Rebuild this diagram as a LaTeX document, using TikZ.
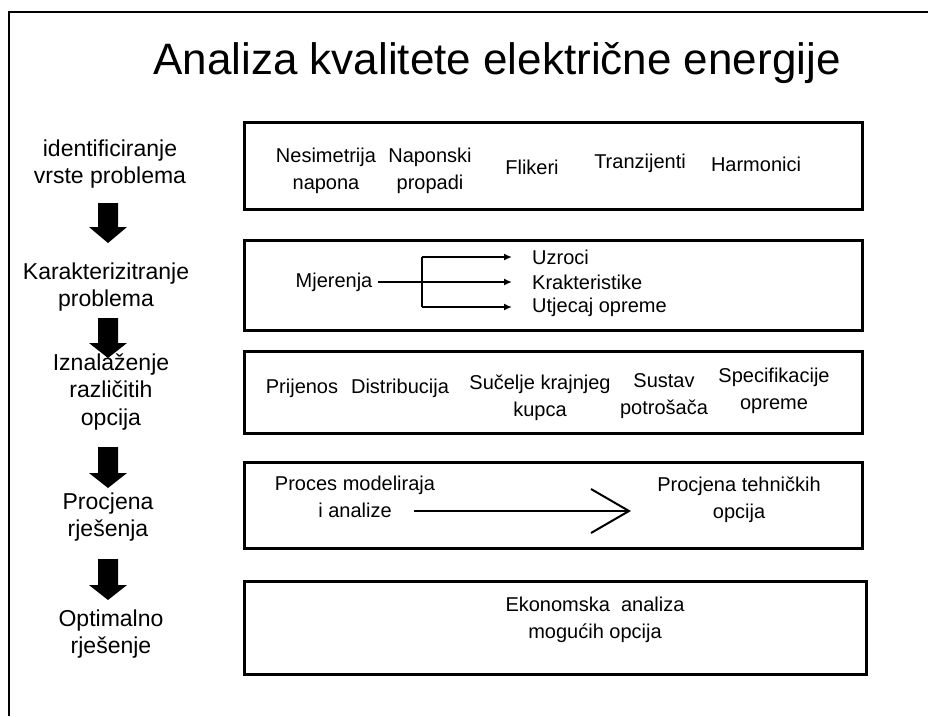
\documentclass[tikz,border=0pt]{standalone}
\usepackage{fontspec}
\setmainfont{Liberation Sans}
\usetikzlibrary{arrows.meta}
\newcommand\flowdownarrow[4]{%
  \fill[black] (#1-10,#2) -- (#1+10,#2) -- (#1+10,#3) -- (#1+19,#3) -- (#1,#4)
    -- (#1-19,#3) -- (#1-10,#3) -- cycle;}
\begin{document}
\begin{tikzpicture}[x=1pt,y=-1pt,
  frame/.style={line width=2.5pt},
  panel/.style={draw, line width=3pt},
  title/.style={inner sep=0pt, font=\fontsize{44}{52}\selectfont},
  lbl/.style={align=center, inner sep=0pt, font=\fontsize{23}{27.5}\selectfont},
  itm/.style={align=center, inner sep=0pt, font=\fontsize{20}{26.5}\selectfont},
  conn/.style={line width=1.6pt},
  connarrow/.style={conn, -{Latex[length=8pt,width=7pt]}},
  bigarrow/.style={line width=1.8pt, -{Straight Barb[length=38pt,width=44pt,line width=2pt]}}]
\useasboundingbox (0,0) rectangle (928,716);
\fill[white] (0,0) rectangle (928,716);
\draw[frame] (9,716) -- (9,12) -- (928,12);

% title
\node[title] (ttl) at (497,63) {Analiza kvalitete električne energije};

% left column labels
\node[lbl] (l1) at (110,164) {identificiranje\\vrste problema};
\node[lbl] (l2) at (106,287) {Karakterizitranje\\problema};
\node[lbl] (l3) at (111,392) {Iznalaženje\\različitih\\opcija};
\node[lbl] (l4) at (108,517) {Procjena\\rješenja};
\node[lbl] (l5) at (111,634) {Optimalno\\rješenje};

% block arrows
\flowdownarrow{108}{203}{227}{243}
\flowdownarrow{108}{318}{343}{358}
\flowdownarrow{108}{447}{473}{488}
\flowdownarrow{108}{559}{585}{600}

% panels
\draw[panel] (244,122) rectangle (862,209);
\draw[panel] (244,240) rectangle (862,330);
\draw[panel] (244,351) rectangle (862,433);
\draw[panel] (244,462) rectangle (862,548);
\draw[panel] (244,581) rectangle (866,674);

% panel 1
\node[itm] (p1a) at (326,171) {Nesimetrija\\napona};
\node[itm] (p1b) at (430,171) {Naponski\\propadi};
\node[itm] (p1c) at (532,167) {Flikeri};
\node[itm] (p1d) at (640,163) {Tranzijenti};
\node[itm] (p1e) at (756,164) {Harmonici};

% panel 2
\node[itm] (mj) at (334,282) {Mjerenja};
\node[itm, anchor=west] (uz) at (532,257) {Uzroci};
\node[itm, anchor=west] (kr) at (532,282) {Krakteristike};
\node[itm, anchor=west] (ut) at (532,307) {Utjecaj opreme};
\coordinate (br) at (422,282);
\draw[conn] ([xshift=5pt]mj.east) -- (br);
\draw[conn] (br |- uz.west) -- (br |- ut.west);
\draw[connarrow] (br |- uz.west) -- ([xshift=-20pt]uz.west);
\draw[connarrow] (br) -- ([xshift=-20pt]kr.west);
\draw[connarrow] (br |- ut.west) -- ([xshift=-20pt]ut.west);

% panel 3
\node[itm] (p3a) at (302,388) {Prijenos};
\node[itm] (p3b) at (400,388) {Distribucija};
\node[itm] (p3c) at (540,398) {Sučelje krajnjeg\\kupca};
\node[itm] (p3d) at (664,396) {Sustav\\potrošača};
\node[itm] (p3e) at (774,391) {Specifikacije\\opreme};

% panel 4
\node[itm] (pm) at (355,497) {Proces modeliraja\\i analize};
\node[itm] (pt) at (739,500) {Procjena tehničkih\\opcija};
\coordinate (a1) at (414,511);
\coordinate (a2) at (631,511);
\draw[bigarrow] (a1) -- (a2);

% panel 5
\node[itm] (ek) at (595,620) {Ekonomska\ \ analiza\\mogućih opcija};
\end{tikzpicture}
\end{document}
